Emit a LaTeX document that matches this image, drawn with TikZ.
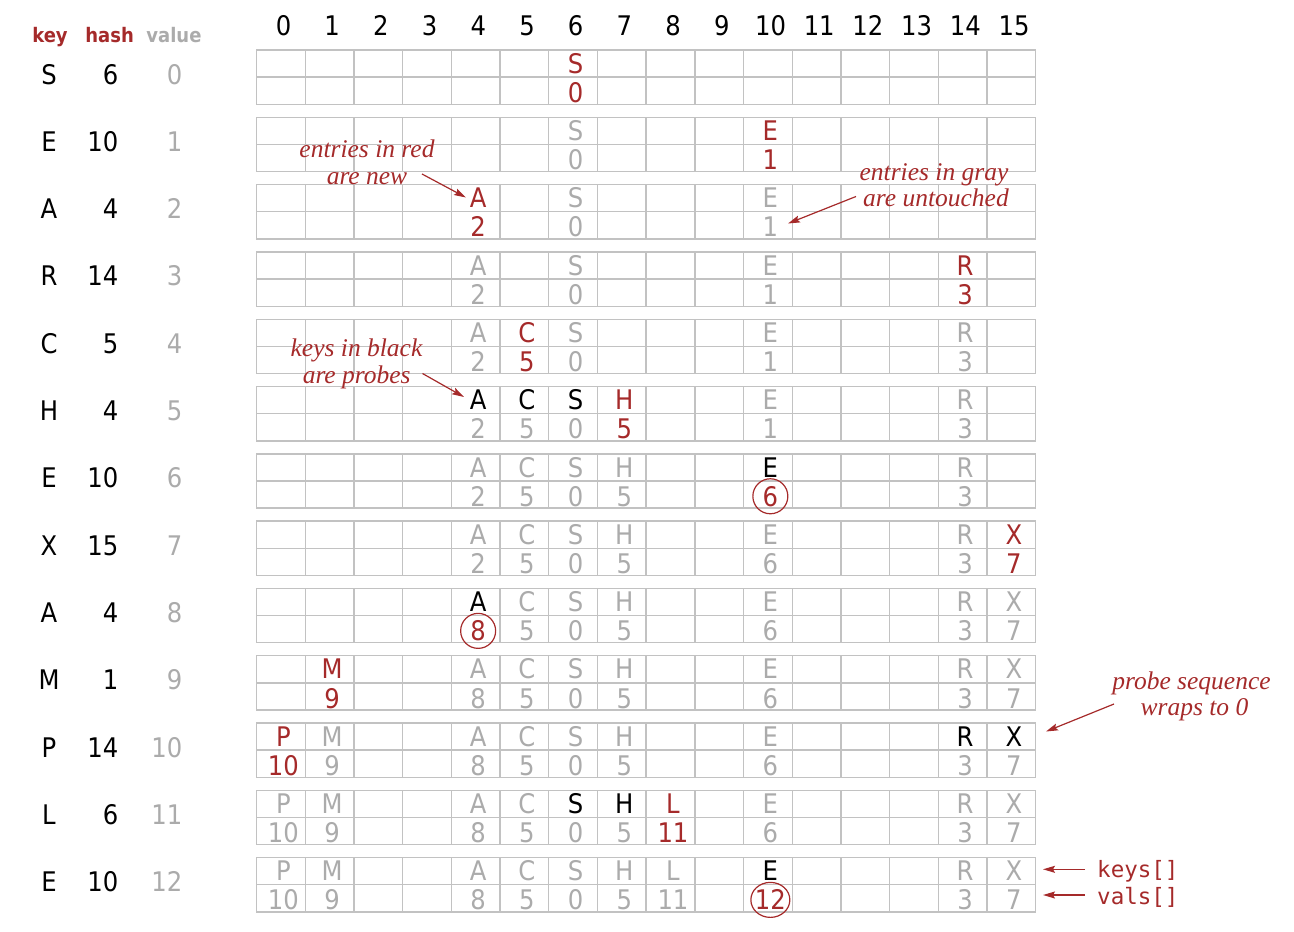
\documentclass[tikz,border=0pt]{standalone}
\usepackage{fontspec}
\setmainfont{DejaVu Sans Condensed}
\newfontfamily\annfont{Liberation Serif}
\newfontfamily\codefont{DejaVu Sans Mono}
\usetikzlibrary{arrows.meta,shapes.geometric}
\definecolor{bookred}{HTML}{A52A2A}
\definecolor{txtgray}{HTML}{ABABAB}
\definecolor{gridgray}{HTML}{C2C2C2}
\newcommand\tabent[6]{%
  \pgfmathsetmacro\ex{256.5+48.7*(#2+0.5)+2.5}%
  \pgfmathsetmacro\ey{50+67.3*(#1)}%
  \node[#3] (k#1-#2) at (\ex,\ey+23.2) {#4};%
  \node[#5] (v#1-#2) at (\ex,\ey+52.3) {#6};%
}
\begin{document}
\begin{tikzpicture}[x=1pt,y=-1pt,
  cellt/.style={anchor=base,inner sep=0pt,font=\fontsize{27}{27}\selectfont},
  newt/.style={cellt,text=bookred},
  oldt/.style={cellt,text=txtgray},
  prbt/.style={cellt,text=black},
  hdrt/.style={anchor=base,inner sep=0pt,font=\bfseries\fontsize{20}{20}\selectfont},
  annt/.style={anchor=base,inner sep=0pt,text=bookred,font=\annfont\itshape\fontsize{25.5}{25.5}\selectfont},
  notearrow/.style={draw=bookred,line width=1.2pt,-{Stealth[length=12pt,width=7pt,inset=2pt]}},
  ringt/.style={draw=bookred,line width=1.2pt,circle,minimum size=35pt,inner sep=0pt},
  ringwt/.style={draw=bookred,line width=1.2pt,ellipse,minimum width=39pt,minimum height=35pt,inner sep=0pt},
  gridl/.style={draw=gridgray,line width=1.4pt},
  codet/.style={anchor=base west,inner sep=0pt,text=bookred,font=\codefont\fontsize{22.5}{22.5}\selectfont}
]
\useasboundingbox (0,0) rectangle (1294,932);

% grids
\foreach \r in {0,...,12}{
  \pgfmathsetmacro\rt{50+67.3*\r}
  \draw[gridl] (256.5,\rt) rectangle (1035.5,\rt+54.3);
  \draw[gridl] (256.5,\rt+27.15) -- (1035.5,\rt+27.15);
  \foreach \c in {1,...,15}{
    \draw[gridl] (256.5+48.7*\c,\rt) -- (256.5+48.7*\c,\rt+54.3);
  }
}

% column indices
\foreach \c in {0,...,15}
  \node[prbt] (h\c) at (256.5+48.7*\c+27,35) {\c};

% left table
\node[hdrt,text=bookred] (hk) at (50,42) {key};
\node[hdrt,text=bookred] (hh) at (109.6,42) {hash};
\node[hdrt,text=txtgray] (hv) at (174,42) {value};
\foreach \k/\h/\v [count=\i from 0] in {S/6/0,E/10/1,A/4/2,R/14/3,C/5/4,H/4/5,E/10/6,X/15/7,A/4/8,M/1/9,P/14/10,L/6/11,E/10/12}{
  \pgfmathsetmacro\ly{50+67.3*\i+34}
  \node[prbt] (lk\i) at (49,\ly) {\k};
  \node[prbt,anchor=base east] (lh\i) at (118.5,\ly) {\h};
  \node[oldt,anchor=base east] (lv\i) at (182.5,\ly) {\v};
}

% row 0: S
\tabent{0}{6}{newt}{S}{newt}{0}
% row 1: E
\tabent{1}{6}{oldt}{S}{oldt}{0}
\tabent{1}{10}{newt}{E}{newt}{1}
% row 2: A
\tabent{2}{4}{newt}{A}{newt}{2}
\tabent{2}{6}{oldt}{S}{oldt}{0}
\tabent{2}{10}{oldt}{E}{oldt}{1}
% row 3: R
\tabent{3}{4}{oldt}{A}{oldt}{2}
\tabent{3}{6}{oldt}{S}{oldt}{0}
\tabent{3}{10}{oldt}{E}{oldt}{1}
\tabent{3}{14}{newt}{R}{newt}{3}
% row 4: C
\tabent{4}{4}{oldt}{A}{oldt}{2}
\tabent{4}{5}{newt}{C}{newt}{5}
\tabent{4}{6}{oldt}{S}{oldt}{0}
\tabent{4}{10}{oldt}{E}{oldt}{1}
\tabent{4}{14}{oldt}{R}{oldt}{3}
% row 5: H
\tabent{5}{4}{prbt}{A}{oldt}{2}
\tabent{5}{5}{prbt}{C}{oldt}{5}
\tabent{5}{6}{prbt}{S}{oldt}{0}
\tabent{5}{7}{newt}{H}{newt}{5}
\tabent{5}{10}{oldt}{E}{oldt}{1}
\tabent{5}{14}{oldt}{R}{oldt}{3}
% row 6: E
\tabent{6}{4}{oldt}{A}{oldt}{2}
\tabent{6}{5}{oldt}{C}{oldt}{5}
\tabent{6}{6}{oldt}{S}{oldt}{0}
\tabent{6}{7}{oldt}{H}{oldt}{5}
\tabent{6}{10}{prbt}{E}{newt}{6}
\tabent{6}{14}{oldt}{R}{oldt}{3}
% row 7: X
\tabent{7}{4}{oldt}{A}{oldt}{2}
\tabent{7}{5}{oldt}{C}{oldt}{5}
\tabent{7}{6}{oldt}{S}{oldt}{0}
\tabent{7}{7}{oldt}{H}{oldt}{5}
\tabent{7}{10}{oldt}{E}{oldt}{6}
\tabent{7}{14}{oldt}{R}{oldt}{3}
\tabent{7}{15}{newt}{X}{newt}{7}
% row 8: A
\tabent{8}{4}{prbt}{A}{newt}{8}
\tabent{8}{5}{oldt}{C}{oldt}{5}
\tabent{8}{6}{oldt}{S}{oldt}{0}
\tabent{8}{7}{oldt}{H}{oldt}{5}
\tabent{8}{10}{oldt}{E}{oldt}{6}
\tabent{8}{14}{oldt}{R}{oldt}{3}
\tabent{8}{15}{oldt}{X}{oldt}{7}
% row 9: M
\tabent{9}{1}{newt}{M}{newt}{9}
\tabent{9}{4}{oldt}{A}{oldt}{8}
\tabent{9}{5}{oldt}{C}{oldt}{5}
\tabent{9}{6}{oldt}{S}{oldt}{0}
\tabent{9}{7}{oldt}{H}{oldt}{5}
\tabent{9}{10}{oldt}{E}{oldt}{6}
\tabent{9}{14}{oldt}{R}{oldt}{3}
\tabent{9}{15}{oldt}{X}{oldt}{7}
% row 10: P
\tabent{10}{0}{newt}{P}{newt}{10}
\tabent{10}{1}{oldt}{M}{oldt}{9}
\tabent{10}{4}{oldt}{A}{oldt}{8}
\tabent{10}{5}{oldt}{C}{oldt}{5}
\tabent{10}{6}{oldt}{S}{oldt}{0}
\tabent{10}{7}{oldt}{H}{oldt}{5}
\tabent{10}{10}{oldt}{E}{oldt}{6}
\tabent{10}{14}{prbt}{R}{oldt}{3}
\tabent{10}{15}{prbt}{X}{oldt}{7}
% row 11: L
\tabent{11}{0}{oldt}{P}{oldt}{10}
\tabent{11}{1}{oldt}{M}{oldt}{9}
\tabent{11}{4}{oldt}{A}{oldt}{8}
\tabent{11}{5}{oldt}{C}{oldt}{5}
\tabent{11}{6}{prbt}{S}{oldt}{0}
\tabent{11}{7}{prbt}{H}{oldt}{5}
\tabent{11}{8}{newt}{L}{newt}{11}
\tabent{11}{10}{oldt}{E}{oldt}{6}
\tabent{11}{14}{oldt}{R}{oldt}{3}
\tabent{11}{15}{oldt}{X}{oldt}{7}
% row 12: E
\tabent{12}{0}{oldt}{P}{oldt}{10}
\tabent{12}{1}{oldt}{M}{oldt}{9}
\tabent{12}{4}{oldt}{A}{oldt}{8}
\tabent{12}{5}{oldt}{C}{oldt}{5}
\tabent{12}{6}{oldt}{S}{oldt}{0}
\tabent{12}{7}{oldt}{H}{oldt}{5}
\tabent{12}{8}{oldt}{L}{oldt}{11}
\tabent{12}{10}{prbt}{E}{newt}{12}
\tabent{12}{14}{oldt}{R}{oldt}{3}
\tabent{12}{15}{oldt}{X}{oldt}{7}

% circles on changed values
\node[ringt] (r6) at (v6-10.center) {};
\node[ringt] (r8) at (v8-4.center) {};
\node[ringwt] (r12) at (v12-10.center) {};

% annotations
\node[annt] (a1) at (367,157) {entries in red};
\node[annt] (a2) at (367,184) {are new};
\node[annt] (b1) at (934,180) {entries in gray};
\node[annt] (b2) at (936,206) {are untouched};
\node[annt] (c1) at (356.5,356) {keys in black};
\node[annt] (c2) at (356.7,383) {are probes};
\node[annt] (d1) at (1191.5,689) {probe sequence};
\node[annt] (d2) at (1194.5,715) {wraps to 0};
\node[codet] (keys) at (1097,877) {keys[]};
\node[codet] (vals) at (1097,904) {vals[]};

\coordinate (a-s) at (422,174);   \coordinate (a-e) at (466,197.5);
\coordinate (b-s) at (856,196.5); \coordinate (b-e) at (788,223.5);
\coordinate (c-s) at (422.5,373.5); \coordinate (c-e) at (464,397);
\coordinate (d-s) at (1114,704);  \coordinate (d-e) at (1046,731.5);
\coordinate (e-s) at (1085,869.3); \coordinate (e-e) at (1043,869.3);
\coordinate (f-s) at (1085,895);  \coordinate (f-e) at (1043,895);
\draw[notearrow] (a-s) -- (a-e);
\draw[notearrow] (b-s) -- (b-e);
\draw[notearrow] (c-s) -- (c-e);
\draw[notearrow] (d-s) -- (d-e);
\draw[notearrow] (e-s) -- (e-e);
\draw[notearrow] (f-s) -- (f-e);
\end{tikzpicture}
\end{document}
